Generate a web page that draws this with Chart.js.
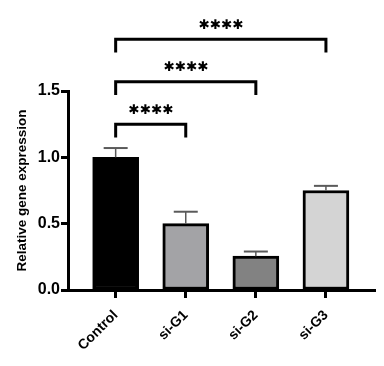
<!DOCTYPE html>
<html>
<head>
<meta charset="utf-8">
<script src="https://cdn.jsdelivr.net/npm/chart.js@4.4.1/dist/chart.umd.min.js"></script>
<style>
html,body{margin:0;padding:0;background:#fff;}
#wrap{width:384px;height:366px;position:relative;}
</style>
</head>
<body>
<div id="wrap"><canvas id="geneChart"></canvas></div>
<script>
// data
const categories=["Control","si-G1","si-G2","si-G3"];
const means=[1.0,0.50,0.255,0.75];
const errUpper=[1.07,0.59,0.29,0.785];
const barColors=["#000000","#a3a3a6","#828282","#d4d4d4"];

// significance brackets (from index, to index, height in data units)
const bracketFrom=[0,0,0];
const bracketTo=[1,2,3];
const bracketLevel=[1.25,1.57,1.89];
const bracketLabel=["****","****","****"];

const errorBars={
id:"errorBars",
afterDatasetsDraw(chart){
const {ctx,scales:{y}}=chart;
const meta=chart.getDatasetMeta(0);
ctx.save();
ctx.strokeStyle="#5a5a5a";
meta.data.forEach((el,i)=>{
const top=y.getPixelForValue(errUpper[i]);
ctx.lineWidth=1.5;
ctx.beginPath();
ctx.moveTo(el.x,el.y);
ctx.lineTo(el.x,top);
ctx.stroke();
ctx.lineWidth=2;
ctx.beginPath();
ctx.moveTo(el.x-12,top);
ctx.lineTo(el.x+12,top);
ctx.stroke();
});
ctx.restore();
}
};

const brackets={
id:"brackets",
afterDraw(chart){
const {ctx,scales:{x,y}}=chart;
ctx.save();
ctx.strokeStyle="#000";
ctx.fillStyle="#000";
ctx.lineWidth=3;
ctx.font="bold 13.5px 'DejaVu Sans'";
ctx.textAlign="center";
ctx.textBaseline="middle";
bracketLevel.forEach((lv,i)=>{
const x1=x.getPixelForValue(bracketFrom[i]);
const x2=x.getPixelForValue(bracketTo[i]);
const yy=y.getPixelForValue(lv);
const yd=y.getPixelForValue(lv-0.1);
ctx.beginPath();
ctx.moveTo(x1,yd);
ctx.lineTo(x1,yy);
ctx.lineTo(x2,yy);
ctx.lineTo(x2,yd);
ctx.stroke();
const s=bracketLabel[i].replace(/\*/g,"\u2731");
ctx.fillText(s,(x1+x2)/2,yy-14);
});
ctx.restore();
}
};

new Chart(document.getElementById("geneChart"),{
type:"bar",
data:{
datasets:[{
data:means.map((v,i)=>({x:i,y:v})),
backgroundColor:barColors,
borderColor:"#000",
borderWidth:3,
borderSkipped:false,
barThickness:46
}]
},
options:{
responsive:true,
maintainAspectRatio:false,
animation:false,
layout:{padding:{top:91,right:9,left:0,bottom:0}},
plugins:{legend:{display:false},tooltip:{enabled:false}},
scales:{
x:{
type:"linear",
offset:false,
min:-0.68,
max:3.7,
afterBuildTicks(scale){scale.ticks=categories.map((c,i)=>({value:i}));},
afterFit(scale){scale.height=76;},
grid:{offset:false,drawOnChartArea:false,color:"#000",tickLength:8,tickWidth:3},
border:{color:"#000",width:3},
ticks:{
autoSkip:false,
maxRotation:45,
minRotation:45,
padding:9,
color:"#000",
font:{family:"'Liberation Sans', Arial",size:14,weight:"bold"},
callback:(v)=>categories[v]
}
},
y:{
min:0,
max:1.5,
afterFit(scale){scale.width=68;},
grid:{drawOnChartArea:false,color:"#000",tickLength:7,tickWidth:3},
border:{color:"#000",width:3},
ticks:{
stepSize:0.5,
padding:1,
color:"#000",
font:{family:"'Liberation Sans', Arial",size:16,weight:"bold"},
callback:(v)=>v.toFixed(1)
},
title:{
display:true,
text:"Relative gene expression",
color:"#000",
padding:{top:14,bottom:0},
font:{family:"'Liberation Sans', Arial",size:13.5,weight:"bold"}
}
}
}
},
plugins:[errorBars,brackets]
});
</script>
</body>
</html>
